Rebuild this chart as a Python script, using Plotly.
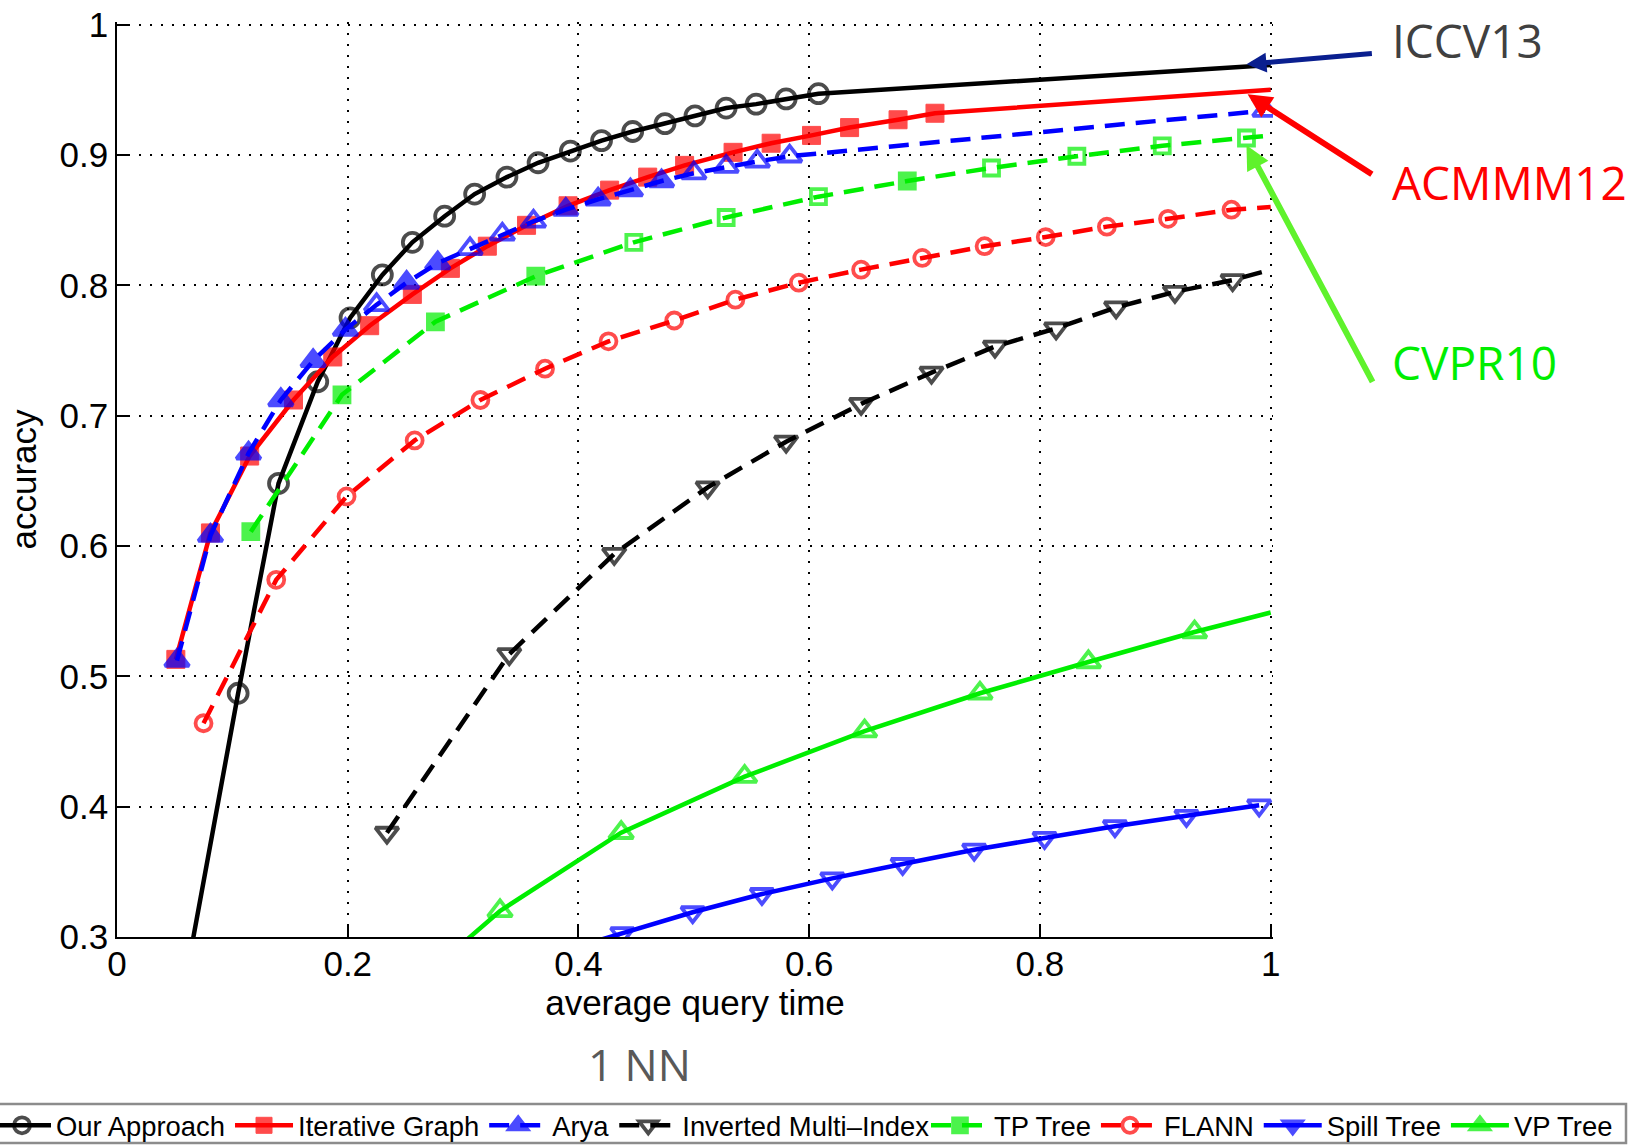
import plotly.graph_objects as go

# ---------------- data ----------------
x_ticks = [0, 0.2, 0.4, 0.6, 0.8, 1.0]
x_tick_labels = ["0", "0.2", "0.4", "0.6", "0.8", "1"]
y_ticks = [0.3, 0.4, 0.5, 0.6, 0.7, 0.8, 0.9, 1.0]
y_tick_labels = ["0.3", "0.4", "0.5", "0.6", "0.7", "0.8", "0.9", "1"]

our_x = [0.060, 0.105, 0.140, 0.174, 0.202, 0.230, 0.256, 0.284, 0.310, 0.338, 0.365,
         0.393, 0.420, 0.447, 0.475, 0.501, 0.528, 0.554, 0.580, 0.608, 1.0]
our_y = [0.270, 0.487, 0.648, 0.726, 0.775, 0.808, 0.833, 0.853, 0.870, 0.883, 0.894,
         0.903, 0.911, 0.918, 0.924, 0.930, 0.936, 0.939, 0.943, 0.947, 0.969]

iter_x = [0.051, 0.081, 0.115, 0.153, 0.187, 0.219, 0.256, 0.289, 0.321, 0.355, 0.391,
          0.427, 0.460, 0.492, 0.534, 0.567, 0.602, 0.635, 0.677, 0.709, 1.0]
iter_y = [0.513, 0.610, 0.669, 0.712, 0.745, 0.769, 0.793, 0.813, 0.830, 0.846, 0.861,
          0.873, 0.883, 0.892, 0.902, 0.909, 0.915, 0.921, 0.927, 0.932, 0.950]

arya_x = [0.052, 0.081, 0.114, 0.142, 0.170, 0.198, 0.225, 0.251, 0.278, 0.306, 0.334,
          0.361, 0.389, 0.417, 0.445, 0.472, 0.500, 0.528, 0.555, 0.583, 0.995]
arya_y = [0.512, 0.608, 0.671, 0.712, 0.742, 0.766, 0.785, 0.802, 0.817, 0.828, 0.839,
          0.849, 0.858, 0.866, 0.873, 0.880, 0.886, 0.891, 0.895, 0.899, 0.934]
arya_filled = [1, 1, 1, 1, 1, 1, 0, 1, 1, 0, 0, 0, 1, 1, 1, 1, 0, 0, 0, 0, 0]

imi_x = [0.234, 0.340, 0.431, 0.512, 0.580, 0.645, 0.706, 0.761, 0.814, 0.866, 0.917, 0.967, 1.0]
imi_y = [0.380, 0.517, 0.594, 0.645, 0.680, 0.709, 0.733, 0.753, 0.767, 0.783, 0.795, 0.804, 0.812]

tp_x = [0.116, 0.195, 0.276, 0.363, 0.448, 0.528, 0.608, 0.685, 0.758, 0.832, 0.906, 0.979, 1.0]
tp_y = [0.611, 0.716, 0.772, 0.807, 0.833, 0.852, 0.868, 0.880, 0.890, 0.899, 0.907, 0.913, 0.915]
tp_filled = [1, 1, 1, 1, 0, 0, 0, 1, 0, 0, 0, 0, 0]

flann_x = [0.075, 0.138, 0.199, 0.258, 0.315, 0.371, 0.426, 0.483, 0.536, 0.591, 0.645,
           0.698, 0.752, 0.805, 0.858, 0.911, 0.966, 1.0]
flann_y = [0.464, 0.574, 0.638, 0.681, 0.712, 0.736, 0.757, 0.773, 0.789, 0.802, 0.812,
           0.821, 0.830, 0.837, 0.845, 0.851, 0.858, 0.860]

spill_x = [0.378, 0.438, 0.499, 0.559, 0.620, 0.681, 0.743, 0.804, 0.865, 0.927, 0.990]
spill_y = [0.287, 0.303, 0.319, 0.333, 0.345, 0.356, 0.367, 0.376, 0.385, 0.393, 0.401]

vp_x = [0.280, 0.332, 0.437, 0.544, 0.648, 0.748, 0.842, 0.934, 1.0]
vp_y = [0.280, 0.320, 0.380, 0.423, 0.458, 0.487, 0.511, 0.534, 0.549]

series_names = ["Our Approach", "Iterative Graph", "Arya", "Inverted Multi\u2013Index",
                "TP Tree", "FLANN", "Spill Tree", "VP Tree"]

# annotation targets (data coords): arrow head x, head y, tail x, tail y
arrow_heads_x = [0.979, 0.980, 0.979]
arrow_heads_y = [0.9695, 0.9465, 0.9074]
arrow_tails_x = [1.089, 1.089, 1.089]
arrow_tails_y = [0.978, 0.8844, 0.7248]
label_texts = ["ICCV13", "ACMMM12", "CVPR10"]
label_x = [1.103, 1.103, 1.103]
label_y = [0.9883, 0.8796, 0.7414]

# ---------------- styles ----------------
BLACK, RED, BLUE, GREEN = "#000000", "#ff0000", "#0000ff", "#00ee00"
DASH = "20px,11px"
FONT = "Liberation Sans, Arial, sans-serif"
XR = [0.0, 1.002]
YR = [0.3, 1.002]
L_MARGIN, T_MARGIN, PLOT_W, PLOT_H = 117, 22, 1156, 915


def sizes(xs, s):
    # markers on all data points; the clipped end point at x = 1 carries none
    return [s if x < 1.0 else 0 for x in xs]


def first_filled(n, filled, hollow):
    # first point lies below the visible y-range (clipped); it only sets the legend glyph
    return [filled] + [hollow] * (n - 1)


def px_(v):
    return (v - XR[0]) / (XR[1] - XR[0])


def py_(v):
    return (v - YR[0]) / (YR[1] - YR[0])


def pix_to_paper_x(p):
    return (p - L_MARGIN) / PLOT_W


def pix_to_paper_y(p):
    return (T_MARGIN + PLOT_H - p) / PLOT_H


fig = go.Figure()
LW = 4.5
MLW = 3.8

fig.add_trace(go.Scatter(
    x=our_x, y=our_y, name=series_names[0], mode="lines+markers", legend="legend",
    line=dict(color=BLACK, width=LW),
    marker=dict(symbol="circle-open", size=sizes(our_x, 19), color=BLACK, line=dict(width=MLW, color=BLACK))))

fig.add_trace(go.Scatter(
    x=iter_x, y=iter_y, name=series_names[1], mode="lines+markers", legend="legend",
    line=dict(color=RED, width=LW),
    marker=dict(symbol="square", size=sizes(iter_x, 18), color=RED, line=dict(width=1, color=RED))))

fig.add_trace(go.Scatter(
    x=arya_x, y=arya_y, name=series_names[2], mode="lines+markers", legend="legend",
    line=dict(color=BLUE, width=LW, dash=DASH),
    marker=dict(symbol=["triangle-up" if f else "triangle-up-open" for f in arya_filled],
                size=sizes(arya_x, 21), color=BLUE, line=dict(width=MLW, color=BLUE))))

fig.add_trace(go.Scatter(
    x=imi_x, y=imi_y, name=series_names[3], mode="lines+markers", legend="legend",
    line=dict(color=BLACK, width=LW, dash=DASH),
    marker=dict(symbol="triangle-down-open", size=sizes(imi_x, 20), color=BLACK, line=dict(width=MLW, color=BLACK))))

fig.add_trace(go.Scatter(
    x=tp_x, y=tp_y, name=series_names[4], mode="lines+markers", legend="legend2",
    line=dict(color=GREEN, width=LW, dash=DASH),
    marker=dict(symbol=["square" if f else "square-open" for f in tp_filled],
                size=sizes(tp_x, 15), color=GREEN, line=dict(width=MLW, color=GREEN))))

fig.add_trace(go.Scatter(
    x=flann_x, y=flann_y, name=series_names[5], mode="lines+markers", legend="legend2",
    line=dict(color=RED, width=LW, dash=DASH),
    marker=dict(symbol="circle-open", size=sizes(flann_x, 16), color=RED, line=dict(width=MLW, color=RED))))

fig.add_trace(go.Scatter(
    x=spill_x, y=spill_y, name=series_names[6], mode="lines+markers", legend="legend2",
    line=dict(color=BLUE, width=LW),
    marker=dict(symbol=first_filled(len(spill_x), "triangle-down", "triangle-down-open"),
                size=sizes(spill_x, 20), color=BLUE, line=dict(width=MLW, color=BLUE))))

fig.add_trace(go.Scatter(
    x=vp_x, y=vp_y, name=series_names[7], mode="lines+markers", legend="legend2",
    line=dict(color=GREEN, width=LW),
    marker=dict(symbol=first_filled(len(vp_x), "triangle-up", "triangle-up-open"),
                size=sizes(vp_x, 21), color=GREEN, line=dict(width=MLW, color=GREEN))))

axis_common = dict(
    showline=True, linecolor="#000000", linewidth=1.5, mirror=False,
    ticks="inside", ticklen=12, tickwidth=1.5, tickcolor="#000000",
    showgrid=True, gridcolor="#000000", gridwidth=1.6, griddash="2px,9px",
    zeroline=False, tickfont=dict(family=FONT, size=35, color="#000000"),
    title_font=dict(family=FONT, size=35, color="#000000"),
)

fig.update_xaxes(range=XR, tickvals=x_ticks, ticktext=x_tick_labels,
                 title_text="average query time", title_standoff=2,
                 ticklabelstandoff=-5, **axis_common)
fig.update_yaxes(range=YR, tickvals=y_ticks, ticktext=y_tick_labels,
                 title_text="accuracy", title_standoff=12, **axis_common)

annotations = []
arrow_colors = ["#0a1f8f", "#ff0000", "#5ff22c"]
arrow_widths = [5, 6, 6]
for i in range(3):
    annotations.append(dict(x=arrow_heads_x[i], y=arrow_heads_y[i], ax=arrow_tails_x[i], ay=arrow_tails_y[i],
                            xref="x", yref="y", axref="x", ayref="y",
                            text="", showarrow=True, arrowhead=2, arrowsize=0.8, arrowwidth=arrow_widths[i],
                            arrowcolor=arrow_colors[i], standoff=0, startstandoff=0))
label_colors = ["#404040", "#ff0000", "#00ee00"]
for i in range(3):
    annotations.append(dict(x=px_(label_x[i]), y=py_(label_y[i]), xref="paper", yref="paper",
                            text=label_texts[i], showarrow=False, xanchor="left", yanchor="middle",
                            font=dict(family="Open Sans, Noto Sans, sans-serif", size=46, color=label_colors[i])))
annotations.append(dict(x=0.4516, y=-0.1391, xref="paper", yref="paper", text="1 NN", showarrow=False,
                        xanchor="center", yanchor="middle",
                        font=dict(family="Open Sans, Noto Sans, sans-serif", size=44, color="#595959")))

legend_common = dict(orientation="h", xanchor="left", yanchor="top",
                     font=dict(family=FONT, size=27.4, color="#000000"),
                     borderwidth=0, bgcolor="rgba(0,0,0,0)",
                     itemwidth=58, tracegroupgap=0, traceorder="normal")

fig.update_layout(
    width=1639, height=1145,
    margin=dict(l=L_MARGIN, r=1639 - L_MARGIN - PLOT_W, t=T_MARGIN, b=1145 - T_MARGIN - PLOT_H, autoexpand=False),
    paper_bgcolor="#ffffff", plot_bgcolor="#ffffff",
    showlegend=True,
    legend=dict(x=pix_to_paper_x(-12), y=pix_to_paper_y(1101), **legend_common),
    legend2=dict(x=pix_to_paper_x(926), y=pix_to_paper_y(1101), **legend_common),
    annotations=annotations,
    shapes=[dict(type="rect", xref="paper", yref="paper",
                 x0=pix_to_paper_x(-3), x1=pix_to_paper_x(1626),
                 y0=pix_to_paper_y(1143), y1=pix_to_paper_y(1104),
                 line=dict(color="#8c8c8c", width=2.5), fillcolor="rgba(0,0,0,0)", layer="above")],
)

fig.write_html("out.html")
